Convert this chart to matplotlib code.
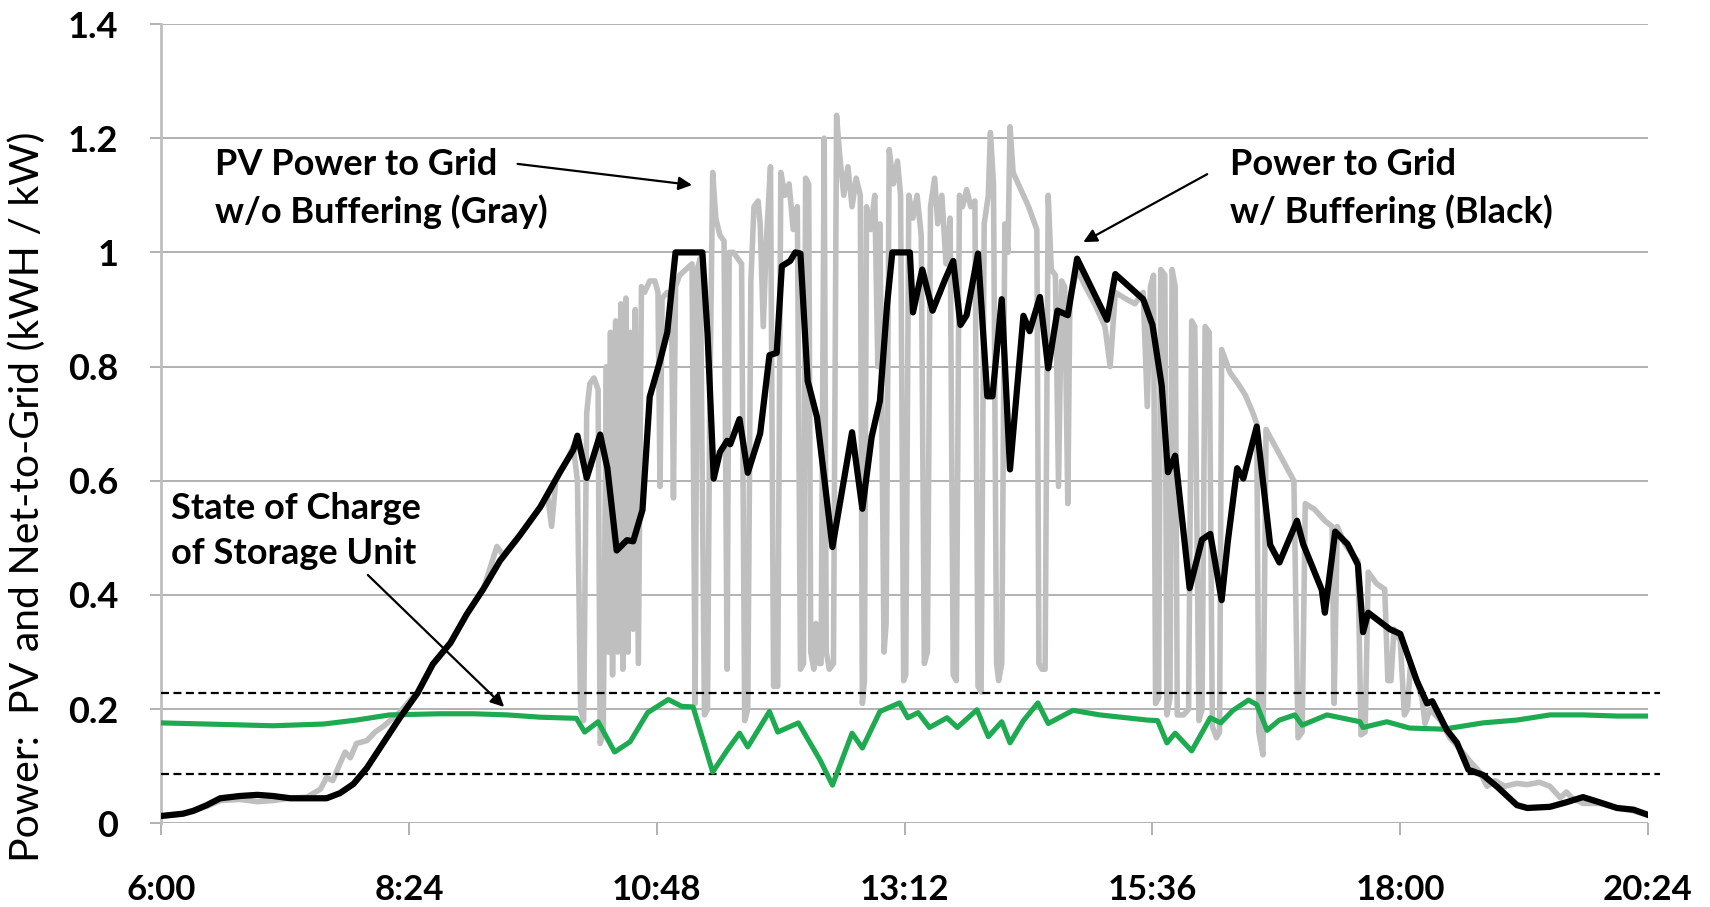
import matplotlib
matplotlib.use("Agg")
import matplotlib.pyplot as plt
from matplotlib.ticker import FixedLocator

plt.rcParams['font.family'] = ['Lato', 'DejaVu Sans']

# ---------------- data (time in decimal hours, power in kW) ----------------
black_t = [6.00, 6.21, 6.31, 6.44, 6.57, 6.76, 6.93, 7.08, 7.25, 7.41, 7.60, 7.73, 7.86, 7.99,
           8.15, 8.31, 8.48, 8.63, 8.80, 8.96, 9.12, 9.28, 9.47, 9.67, 9.86, 9.99, 10.03, 10.12,
           10.25, 10.32, 10.41, 10.51, 10.57, 10.66, 10.73, 10.83, 10.90, 10.98, 11.24, 11.29,
           11.35, 11.41, 11.48, 11.51, 11.60, 11.68, 11.80, 11.89, 11.96, 12.01, 12.09, 12.14,
           12.19, 12.26, 12.35, 12.50, 12.69, 12.79, 12.88, 12.96, 13.03, 13.08, 13.25, 13.28,
           13.37, 13.47, 13.59, 13.67, 13.74, 13.80, 13.91, 14.00, 14.05, 14.14, 14.22, 14.35,
           14.41, 14.51, 14.59, 14.68, 14.78, 14.87, 15.16, 15.24, 15.51, 15.60, 15.69, 15.75,
           15.82, 15.96, 16.08, 16.16, 16.27, 16.33, 16.42, 16.48, 16.61, 16.74, 16.83, 17.00,
           17.06, 17.24, 17.27, 17.37, 17.49, 17.59, 17.64, 17.69, 17.90, 18.00, 18.16, 18.26,
           18.31, 18.45, 18.55, 18.66, 18.80, 18.94, 19.13, 19.23, 19.45, 19.61, 19.77, 19.93,
           20.10, 20.26, 20.40]
black_v = [0.013, 0.017, 0.022, 0.032, 0.044, 0.048, 0.050, 0.048, 0.044, 0.044, 0.044, 0.053,
           0.069, 0.097, 0.141, 0.185, 0.228, 0.279, 0.316, 0.367, 0.411, 0.460, 0.504, 0.554,
           0.615, 0.654, 0.679, 0.605, 0.681, 0.622, 0.478, 0.496, 0.494, 0.549, 0.747, 0.810,
           0.860, 1.0, 1.0, 0.858, 0.604, 0.650, 0.670, 0.664, 0.708, 0.614, 0.683, 0.820,
           0.824, 0.976, 0.985, 1.0, 0.998, 0.775, 0.712, 0.484, 0.685, 0.551, 0.677, 0.740,
           0.910, 1.0, 1.0, 0.895, 0.970, 0.898, 0.952, 0.985, 0.873, 0.890, 0.998, 0.748,
           0.748, 0.918, 0.620, 0.889, 0.862, 0.922, 0.797, 0.898, 0.890, 0.989, 0.882, 0.962,
           0.918, 0.873, 0.766, 0.615, 0.644, 0.412, 0.497, 0.507, 0.391, 0.494, 0.622, 0.604,
           0.695, 0.488, 0.457, 0.530, 0.489, 0.409, 0.369, 0.511, 0.489, 0.453, 0.335, 0.369,
           0.340, 0.332, 0.250, 0.210, 0.214, 0.164, 0.141, 0.094, 0.085, 0.064, 0.032, 0.027,
           0.029, 0.037, 0.046, 0.037, 0.027, 0.024, 0.015]

gray_t = [6.00, 6.21, 6.44, 6.57, 6.76, 6.93, 7.08, 7.25, 7.41, 7.54, 7.60, 7.66, 7.73, 7.78,
          7.83, 7.89, 7.99, 8.07, 8.15, 8.31, 8.48, 8.63, 8.80, 8.96, 9.12, 9.18, 9.25, 9.31,
          9.47, 9.67, 9.74, 9.78, 9.82, 9.91, 9.99, 10.03, 10.06, 10.09, 10.12, 10.15, 10.19,
          10.23, 10.25, 10.28, 10.31, 10.33, 10.35, 10.37, 10.40, 10.42, 10.45, 10.47, 10.50,
          10.52, 10.54, 10.57, 10.59, 10.62, 10.65, 10.68, 10.73, 10.78, 10.81, 10.83, 10.85,
          10.90, 10.94, 10.96, 10.98, 11.02, 11.08, 11.14, 11.17, 11.19, 11.22, 11.26, 11.29,
          11.31, 11.34, 11.37, 11.41, 11.45, 11.48, 11.50, 11.54, 11.58, 11.62, 11.65, 11.68,
          11.71, 11.74, 11.78, 11.80, 11.83, 11.86, 11.90, 11.93, 11.97, 12.00, 12.04, 12.08,
          12.12, 12.16, 12.19, 12.22, 12.24, 12.27, 12.29, 12.32, 12.34, 12.37, 12.39, 12.42,
          12.44, 12.47, 12.51, 12.54, 12.57, 12.61, 12.65, 12.69, 12.73, 12.77, 12.79, 12.81,
          12.83, 12.87, 12.91, 12.94, 12.96, 13.00, 13.02, 13.05, 13.09, 13.13, 13.16, 13.19,
          13.21, 13.24, 13.28, 13.32, 13.36, 13.39, 13.42, 13.45, 13.49, 13.52, 13.56, 13.60,
          13.64, 13.67, 13.70, 13.73, 13.76, 13.80, 13.84, 13.88, 13.91, 13.94, 13.97, 14.01,
          14.03, 14.06, 14.09, 14.11, 14.14, 14.17, 14.20, 14.22, 14.25, 14.30, 14.35, 14.40,
          14.44, 14.48, 14.50, 14.53, 14.56, 14.59, 14.62, 14.66, 14.69, 14.72, 14.75, 14.78,
          14.80, 14.87, 14.95, 15.04, 15.14, 15.19, 15.24, 15.33, 15.43, 15.51, 15.55, 15.58,
          15.61, 15.63, 15.66, 15.68, 15.72, 15.74, 15.77, 15.79, 15.82, 15.84, 15.90, 15.95,
          15.98, 16.01, 16.05, 16.08, 16.11, 16.15, 16.18, 16.22, 16.25, 16.27, 16.35, 16.43,
          16.50, 16.57, 16.61, 16.63, 16.67, 16.70, 16.79, 16.88, 16.97, 17.01, 17.05, 17.08,
          17.17, 17.27, 17.34, 17.36, 17.39, 17.46, 17.54, 17.59, 17.62, 17.66, 17.69, 17.77,
          17.85, 17.88, 17.91, 17.94, 18.00, 18.04, 18.07, 18.10, 18.16, 18.21, 18.24, 18.29,
          18.39, 18.48, 18.58, 18.67, 18.77, 18.84, 18.92, 19.01, 19.13, 19.23, 19.35, 19.45,
          19.55, 19.61, 19.66, 19.77, 19.93, 20.10, 20.26, 20.40]
gray_v = [0.013, 0.017, 0.030, 0.040, 0.042, 0.038, 0.040, 0.044, 0.046, 0.060, 0.080, 0.075,
          0.105, 0.125, 0.115, 0.140, 0.145, 0.160, 0.170, 0.195, 0.230, 0.280, 0.318, 0.367,
          0.411, 0.445, 0.485, 0.470, 0.505, 0.554, 0.575, 0.520, 0.600, 0.630, 0.660, 0.600,
          0.200, 0.180, 0.720, 0.770, 0.780, 0.760, 0.140, 0.160, 0.80, 0.30, 0.86, 0.26, 0.88,
          0.30, 0.91, 0.27, 0.92, 0.30, 0.86, 0.34, 0.90, 0.28, 0.94, 0.93, 0.95, 0.95, 0.93,
          0.59, 0.92, 0.93, 0.92, 0.57, 0.94, 0.96, 0.97, 0.98, 0.21, 0.97, 0.99, 0.19, 0.20,
          0.70, 1.14, 1.06, 1.03, 1.02, 0.27, 1.00, 1.00, 0.99, 0.98, 0.18, 0.20, 0.95, 1.08,
          1.09, 1.05, 0.87, 1.02, 1.15, 0.24, 0.24, 1.14, 1.10, 1.12, 1.04, 1.08, 0.27, 0.28,
          1.13, 1.12, 0.30, 0.27, 0.35, 0.28, 0.28, 1.20, 0.30, 0.27, 0.28, 1.24, 1.17, 1.10,
          1.15, 1.08, 1.13, 1.10, 0.21, 0.25, 1.08, 1.04, 1.10, 0.80, 1.05, 0.30, 0.35, 1.18,
          1.12, 1.16, 1.10, 0.25, 0.26, 1.10, 1.06, 1.10, 1.03, 0.28, 0.30, 1.08, 1.13, 1.05,
          1.10, 0.98, 1.06, 0.26, 0.25, 1.10, 1.08, 1.11, 1.08, 1.09, 0.24, 0.23, 1.05, 1.10,
          1.21, 1.12, 0.28, 0.25, 0.28, 1.05, 1.00, 1.22, 1.14, 1.12, 1.10, 1.08, 1.06, 1.04,
          0.28, 0.27, 0.27, 1.10, 0.97, 0.96, 0.59, 0.95, 0.94, 0.56, 0.92, 0.97, 0.94, 0.91,
          0.87, 0.80, 0.93, 0.92, 0.91, 0.93, 0.73, 0.94, 0.96, 0.21, 0.22, 0.97, 0.96, 0.19,
          0.22, 0.97, 0.94, 0.19, 0.19, 0.20, 0.88, 0.87, 0.18, 0.20, 0.87, 0.86, 0.17, 0.15,
          0.16, 0.83, 0.79, 0.77, 0.75, 0.72, 0.70, 0.16, 0.12, 0.69, 0.66, 0.63, 0.60, 0.15,
          0.16, 0.56, 0.55, 0.53, 0.52, 0.21, 0.52, 0.49, 0.47, 0.46, 0.155, 0.16, 0.44, 0.42,
          0.41, 0.25, 0.25, 0.34, 0.32, 0.19, 0.20, 0.28, 0.25, 0.22, 0.175, 0.20, 0.18, 0.15,
          0.13, 0.11, 0.09, 0.065, 0.075, 0.065, 0.070, 0.068, 0.072, 0.065, 0.045, 0.055,
          0.045, 0.035, 0.035, 0.027, 0.022, 0.014]

soc_t = [6.00, 6.44, 7.08, 7.57, 7.89, 8.21, 8.70, 9.02, 9.35, 9.67, 10.02, 10.10, 10.23,
         10.39, 10.54, 10.71, 10.91, 11.04, 11.15, 11.34, 11.48, 11.60, 11.68, 11.89, 11.97,
         12.17, 12.38, 12.50, 12.69, 12.79, 12.96, 13.15, 13.23, 13.33, 13.44, 13.61, 13.71,
         13.90, 14.01, 14.14, 14.22, 14.35, 14.49, 14.59, 14.83, 15.09, 15.55, 15.65, 15.74,
         15.82, 15.98, 16.16, 16.26, 16.38, 16.53, 16.61, 16.71, 16.83, 16.98, 17.05, 17.29,
         17.61, 17.64, 17.87, 18.09, 18.42, 18.80, 19.13, 19.45, 19.77, 20.10, 20.40]
soc_v = [0.176, 0.174, 0.171, 0.174, 0.181, 0.190, 0.192, 0.192, 0.190, 0.186, 0.184, 0.160,
         0.178, 0.125, 0.143, 0.194, 0.217, 0.205, 0.204, 0.090, 0.128, 0.158, 0.134, 0.196,
         0.160, 0.176, 0.111, 0.067, 0.158, 0.132, 0.196, 0.211, 0.185, 0.194, 0.168, 0.185,
         0.168, 0.199, 0.152, 0.178, 0.141, 0.180, 0.211, 0.175, 0.198, 0.190, 0.181, 0.180,
         0.141, 0.158, 0.127, 0.185, 0.176, 0.198, 0.216, 0.208, 0.163, 0.181, 0.190, 0.172,
         0.190, 0.178, 0.168, 0.178, 0.167, 0.165, 0.176, 0.181, 0.190, 0.190, 0.188, 0.188]

soc_limits = [0.228, 0.087]

x_ticks = [6.0, 8.4, 10.8, 13.2, 15.6, 18.0, 20.4]
x_labels = ["6:00", "8:24", "10:48", "13:12", "15:36", "18:00", "20:24"]
y_ticks = [0, 0.2, 0.4, 0.6, 0.8, 1.0, 1.2, 1.4]
y_labels = ["0", "0.2", "0.4", "0.6", "0.8", "1", "1.2", "1.4"]

# ---------------- figure ----------------
W, H = 1710, 907
fig = plt.figure(figsize=(W / 100, H / 100), dpi=100)
ax = fig.add_axes([161.4 / W, 1 - 823.4 / H, (1648 - 161.4) / W, (823.4 - 24) / H])

grid_col = '#ABABAB'
ax.set_xlim(6.0, 20.4)
ax.set_ylim(0, 1.4)
for yv in y_ticks:
    ax.axhline(yv, color=grid_col, lw=1.3, zorder=1)

ax.plot(gray_t, gray_v, color='#BFBFBF', lw=4.0, zorder=2, solid_joinstyle='round')
for yl in soc_limits:
    ax.axhline(yl, xmin=0, xmax=1.008, color='black', lw=1.6, dashes=(3.6, 2.0),
               zorder=3, clip_on=False)
ax.plot(soc_t, soc_v, color='#1DAA50', lw=3.7, zorder=4, solid_joinstyle='round')
ax.plot(black_t, black_v, color='black', lw=4.5, zorder=5, solid_joinstyle='round')

for s in ['top', 'right', 'bottom']:
    ax.spines[s].set_visible(False)
ax.spines['left'].set_color('#BFBFBF')
ax.spines['left'].set_linewidth(2.0)

ax.xaxis.set_major_locator(FixedLocator(x_ticks))
ax.set_xticklabels(x_labels)
ax.yaxis.set_major_locator(FixedLocator(y_ticks))
ax.set_yticklabels(y_labels)
ax.tick_params(axis='x', length=8.6, width=1.3, color=grid_col, pad=28,
               labelsize=25)
ax.tick_params(axis='y', length=8, width=1.3, color=grid_col, pad=23,
               labelsize=26)
for lab in ax.get_xticklabels() + ax.get_yticklabels():
    lab.set_fontweight('bold')

fig.text(27 / W, 1 - 497 / H, "Power:  PV and Net-to-Grid (kWH / kW)", rotation=90,
         ha='center', va='center', fontsize=29.5)

txt_kw = dict(fontsize=26, fontweight='bold', ha='left', va='center', linespacing=1.45,
              zorder=6)
ax.text(6.52, 1.112, "PV Power to Grid\nw/o Buffering (Gray)", **txt_kw)
ax.text(16.35, 1.112, "Power to Grid\nw/ Buffering (Black)", **txt_kw)
ax.text(6.09, 0.512, "State of Charge\nof Storage Unit", **txt_kw)

arr = dict(arrowstyle='-|>', color='black', lw=1.6, mutation_scale=20, shrinkA=0, shrinkB=0)
ax.annotate("", xy=(11.14, 1.118), xytext=(9.45, 1.155), arrowprops=arr)
ax.annotate("", xy=(14.93, 1.018), xytext=(16.13, 1.137), arrowprops=arr)
ax.annotate("", xy=(9.32, 0.204), xytext=(8.00, 0.435), arrowprops=arr)

fig.savefig("out.png", dpi=100)
